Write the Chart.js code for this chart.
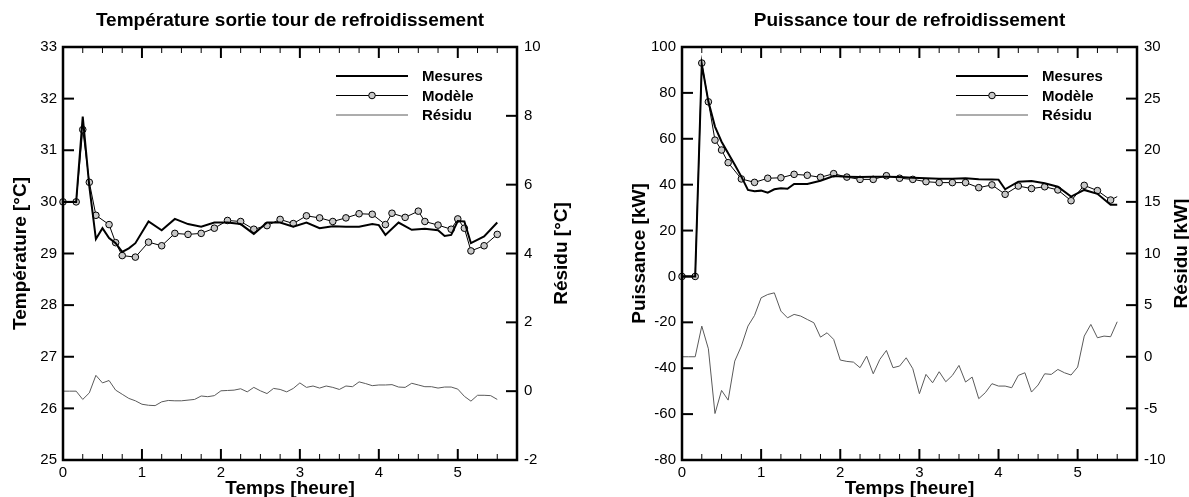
<!DOCTYPE html>
<html><head><meta charset="utf-8">
<script src="https://cdn.jsdelivr.net/npm/chart.js@4/dist/chart.umd.min.js"></script>
<style>
html,body{margin:0;padding:0;background:#fff;width:1189px;height:497px;overflow:hidden}
canvas{position:absolute;top:0}
#c1{left:0}
#c2{left:594px}
</style></head><body>
<canvas id="c1" width="594" height="497"></canvas>
<canvas id="c2" width="595" height="497"></canvas>
<script>
// ---------- data (time in minutes) ----------
const xTickLabels = [0, 1, 2, 3, 4, 5];

// Left chart: Température sortie tour de refroidissement
const tempTicksLeft = [25, 26, 27, 28, 29, 30, 31, 32, 33];
const tempTicksRight = [-2, 0, 2, 4, 6, 8, 10];
const tempMesT = [0,10,15,20,25,30,35,40,45,50,55,65,75,85,95,105,115,125,135,145,155,165,175,185,195,205,215,225,235,240,245,255,265,275,285,290,295,300,305,310,320,330];
const tempMes  = [30.0,30.0,31.65,30.3,29.28,29.49,29.3,29.2,29.03,29.1,29.2,29.62,29.45,29.67,29.57,29.52,29.6,29.6,29.57,29.38,29.6,29.6,29.52,29.6,29.49,29.53,29.52,29.52,29.57,29.55,29.36,29.6,29.46,29.48,29.45,29.34,29.36,29.63,29.62,29.2,29.33,29.6];
const tempModT = [0,10,15,20,25,35,40,45,55,65,75,85,95,105,115,125,135,145,155,165,175,185,195,205,215,225,235,245,250,260,270,275,285,295,300,305,310,320,330];
const tempMod  = [30.0,30.0,31.4,30.38,29.74,29.56,29.21,28.96,28.93,29.22,29.15,29.39,29.37,29.39,29.49,29.64,29.62,29.47,29.54,29.66,29.58,29.73,29.69,29.62,29.69,29.77,29.76,29.56,29.78,29.70,29.82,29.62,29.55,29.47,29.67,29.49,29.05,29.15,29.37];
const resT = [0,5,10,15,20,25,30,35,40,45,50,55,60,65,70,75,80,85,90,95,100,105,110,115,120,125,130,135,140,145,150,155,160,165,170,175,180,185,190,195,200,205,210,215,220,225,230,235,240,245,250,255,260,265,270,275,280,285,290,295,300,305,310,315,320,325,330];
const tempRes = [0,0,0,-0.24,-0.05,0.46,0.24,0.31,0.03,-0.09,-0.21,-0.28,-0.38,-0.41,-0.42,-0.31,-0.27,-0.28,-0.28,-0.26,-0.24,-0.14,-0.16,-0.13,0.01,0.02,0.03,0.07,-0.02,0.11,0.01,-0.07,0.08,0.05,-0.02,0.08,0.24,0.11,0.15,0.09,0.15,0.11,0.05,0.15,0.13,0.27,0.22,0.16,0.18,0.18,0.19,0.12,0.11,0.23,0.18,0.13,0.13,0.09,0.12,0.12,0.06,-0.15,-0.29,-0.12,-0.12,-0.13,-0.24];

// Right chart: Puissance tour de refroidissement
const powTicksLeft = [-80, -60, -40, -20, 0, 20, 40, 60, 80, 100];
const powTicksRight = [-10, -5, 0, 5, 10, 15, 20, 25, 30];
const powMesT = [0,10,15,20,25,30,35,40,45,50,55,60,65,70,75,80,85,95,105,115,125,135,145,155,165,175,185,195,205,215,225,235,240,245,255,265,275,285,295,305,315,325,330];
const powMes  = [0,0,92.5,76.2,65.3,58.7,53.7,48.7,43.5,37.7,37.1,37.4,36.5,38.0,38.4,38.2,40.3,40.3,41.7,43.8,43.5,43.3,43.5,43.5,43.3,43.0,42.8,42.6,42.6,42.8,42.4,42.3,42.2,38.0,41.3,41.6,40.6,39.1,34.8,37.7,36.0,31.2,31.2];
const powModT = [0,10,15,20,25,30,35,45,55,65,75,85,95,105,115,125,135,145,155,165,175,185,195,205,215,225,235,245,255,265,275,285,295,305,315,325,330];
const powMod  = [0,0,93.0,76.1,59.4,55.1,49.6,42.5,41.0,42.8,43.0,44.5,44.1,43.2,44.8,43.3,42.3,42.3,43.9,42.8,42.3,41.3,40.9,40.9,40.9,38.7,39.9,35.8,39.4,38.3,39.1,37.7,33.0,39.7,37.4,33.3,34.8];
const powRes = [0,0,0,2.97,0.77,-5.5,-3.26,-4.2,-0.42,1.03,2.97,4.0,5.71,6.03,6.19,4.42,3.77,4.1,3.94,3.61,3.29,1.9,2.32,1.68,-0.32,-0.45,-0.52,-1.06,0.06,-1.65,-0.26,0.61,-1.06,-0.9,-0.1,-1.16,-3.58,-1.71,-2.52,-1.45,-2.42,-1.81,-0.84,-2.45,-1.97,-4.06,-3.48,-2.61,-2.84,-2.84,-3.0,-1.81,-1.55,-3.42,-2.74,-1.65,-1.71,-1.23,-1.55,-1.77,-1.0,2.0,3.13,1.84,2.0,1.94,3.39];

const legendLabels = ['Mesures', 'Modèle', 'Résidu'];

// ---------- helpers ----------
const FONT = '"Liberation Sans", Arial, Helvetica, sans-serif';
const pts = (t, v) => t.map((m, i) => ({x: m / 60, y: v[i]}));

const decor = {
  id: 'decor',
  afterDraw(chart, args, o) {
    const ctx = chart.ctx, a = chart.chartArea;
    const sx = chart.scales.x, yl = chart.scales.y, yr = chart.scales.y2;
    const seg = (x1, y1, x2, y2) => { ctx.beginPath(); ctx.moveTo(x1, y1); ctx.lineTo(x2, y2); ctx.stroke(); };
    ctx.save();
    ctx.strokeStyle = '#000';
    // minor x ticks (every quarter hour)
    ctx.lineWidth = 1;
    for (let v = 0.25; v < sx.max; v += 0.25) {
      if (Math.abs(v - Math.round(v)) < 1e-6) continue;
      const px = sx.getPixelForValue(v);
      seg(px, a.bottom, px, a.bottom - 6);
      seg(px, a.top, px, a.top + 6);
    }
    ctx.lineWidth = 2;
    for (const v of xTickLabels) {
      const px = sx.getPixelForValue(v);
      seg(px, a.bottom, px, a.bottom - 11);
      seg(px, a.top, px, a.top + 11);
    }
    for (const v of o.yLeft) { const py = yl.getPixelForValue(v); seg(a.left, py, a.left + 11, py); }
    for (const v of o.yRight) { const py = yr.getPixelForValue(v); seg(a.right, py, a.right - 11, py); }
    // frame
    ctx.lineWidth = 2.5;
    ctx.strokeRect(a.left, a.top, a.right - a.left, a.bottom - a.top);

    // titles
    ctx.fillStyle = '#000';
    ctx.font = 'bold 19px ' + FONT;
    ctx.textAlign = 'center';
    ctx.textBaseline = 'alphabetic';
    const cx = (a.left + a.right) / 2, cy = (a.top + a.bottom) / 2;
    ctx.fillText(o.title, cx, 26);
    ctx.fillText(o.xTitle, cx, 494);
    ctx.textBaseline = 'middle';
    ctx.save(); ctx.translate(a.left - 42, cy); ctx.rotate(-Math.PI / 2); ctx.fillText(o.yTitle, 0, 0); ctx.restore();
    ctx.save(); ctx.translate(a.right + 44.5, cy); ctx.rotate(-Math.PI / 2); ctx.fillText(o.y2Title, 0, 0); ctx.restore();

    // legend
    const ds = chart.data.datasets;
    const x1 = a.right - 181, x2 = a.right - 109, tx = a.right - 95;
    const ys = [76, 95.5, 115];
    ctx.font = 'bold 15px ' + FONT;
    ctx.textAlign = 'left';
    ds.forEach((d, i) => {
      ctx.strokeStyle = d.borderColor;
      ctx.lineWidth = d.borderWidth;
      seg(x1, ys[i], x2, ys[i]);
      if (i === 1) {
        ctx.beginPath();
        ctx.arc((x1 + x2) / 2, ys[i], 3.3, 0, Math.PI * 2);
        ctx.fillStyle = d.pointBackgroundColor;
        ctx.fill();
        ctx.lineWidth = 1;
        ctx.strokeStyle = '#000';
        ctx.stroke();
      }
      ctx.fillStyle = '#000';
      ctx.fillText(legendLabels[i], tx, ys[i] + 1);
    });
    ctx.restore();
  }
};

function makeChart(id, c) {
  const tickFont = {family: FONT, size: 15};
  return new Chart(document.getElementById(id), {
    type: 'line',
    data: {
      datasets: [
        {label: legendLabels[0], data: pts(c.mesT, c.mes), borderColor: '#000', borderWidth: 2, pointRadius: 0, yAxisID: 'y', tension: 0, clip: false},
        {label: legendLabels[1], data: pts(c.modT, c.mod), borderColor: '#000', borderWidth: 1,
          pointRadius: ctx => (c.lastNoMarker && ctx.dataIndex === c.mod.length - 1) ? 0 : 3.3,
          pointBackgroundColor: '#c8c8c8', pointBorderColor: '#000', pointBorderWidth: 1, yAxisID: 'y', tension: 0, clip: false},
        {label: legendLabels[2], data: pts(resT, c.res), borderColor: '#5a5a5a', borderWidth: 1, pointRadius: 0, yAxisID: 'y2', tension: 0}
      ]
    },
    options: {
      responsive: false,
      animation: false,
      parsing: false,
      events: [],
      layout: {padding: {top: 47, left: 0, right: 0, bottom: 0}},
      plugins: {legend: {display: false}, title: {display: false}, tooltip: {enabled: false}, decor: c.decor},
      scales: {
        x: {
          type: 'linear', min: 0, max: 5.75,
          afterFit: s => { s.height = 37; },
          afterBuildTicks: s => { s.ticks = xTickLabels.map(v => ({value: v})); },
          grid: {display: false, drawTicks: false},
          border: {display: false},
          ticks: {font: tickFont, color: '#000', padding: 4, maxRotation: 0}
        },
        y: {
          type: 'linear', position: 'left', min: c.yMin, max: c.yMax,
          afterFit: s => { s.width = c.leftW; },
          afterBuildTicks: s => { s.ticks = c.decor.yLeft.map(v => ({value: v})); },
          grid: {display: false, drawTicks: false},
          border: {display: false},
          ticks: {font: tickFont, color: '#000', padding: 6}
        },
        y2: {
          type: 'linear', position: 'right', min: c.y2Min, max: c.y2Max,
          afterFit: s => { s.width = c.rightW; },
          afterBuildTicks: s => { s.ticks = c.decor.yRight.map(v => ({value: v})); },
          grid: {display: false, drawTicks: false},
          border: {display: false},
          ticks: {font: tickFont, color: '#000', padding: 7}
        }
      }
    },
    plugins: [decor]
  });
}

makeChart('c1', {
  mesT: tempMesT, mes: tempMes, modT: tempModT, mod: tempMod, res: tempRes,
  yMin: 25, yMax: 33, y2Min: -2, y2Max: 10, leftW: 63, rightW: 77, lastNoMarker: false,
  decor: {title: 'Température sortie tour de refroidissement', xTitle: 'Temps [heure]', yTitle: 'Température [°C]', y2Title: 'Résidu [°C]', yLeft: tempTicksLeft, yRight: tempTicksRight}
});
makeChart('c2', {
  mesT: powMesT, mes: powMes, modT: powModT, mod: powMod, res: powRes,
  yMin: -80, yMax: 100, y2Min: -10, y2Max: 30, leftW: 88, rightW: 52, lastNoMarker: true,
  decor: {title: 'Puissance tour de refroidissement', xTitle: 'Temps [heure]', yTitle: 'Puissance [kW]', y2Title: 'Résidu [kW]', yLeft: powTicksLeft, yRight: powTicksRight}
});
</script>
</body></html>
